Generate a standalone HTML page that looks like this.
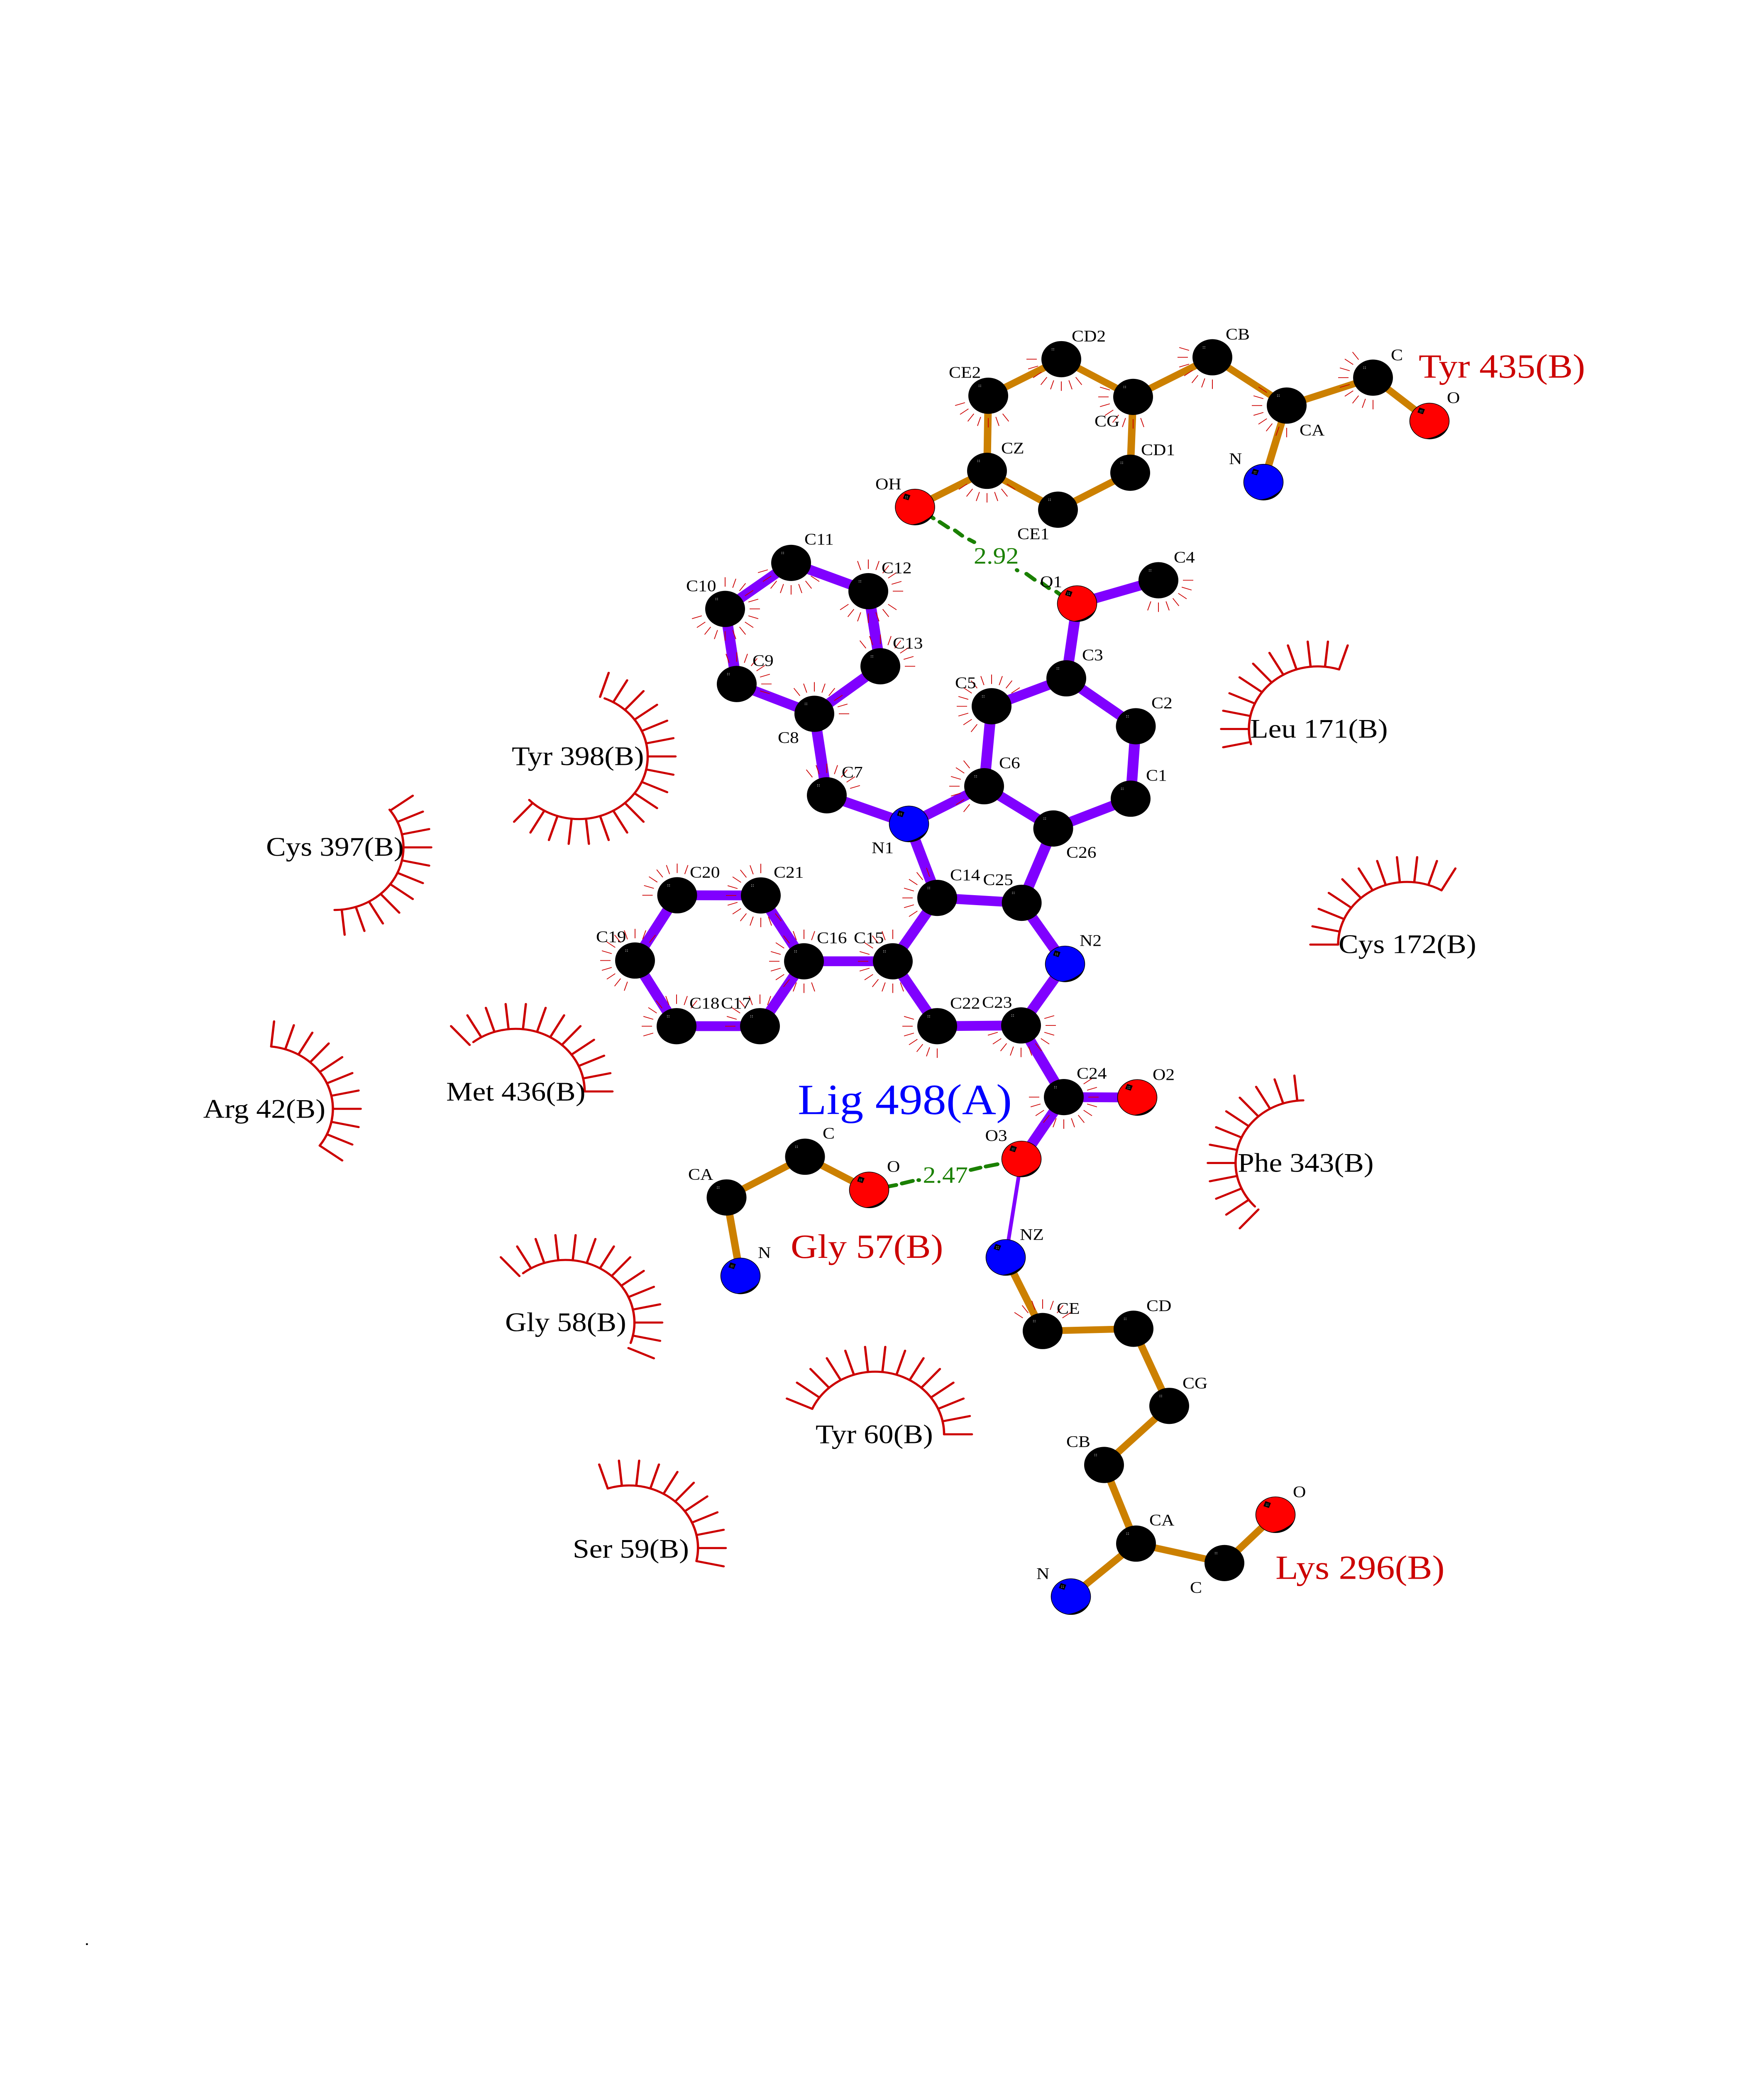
<!DOCTYPE html>
<html lang="en">
<head>
<meta charset="utf-8">
<title>Lig 498(A) interaction diagram</title>
<style>
html,body{margin:0;padding:0;background:#fff;width:100%;height:100%;overflow:hidden}
svg{display:block;position:absolute;left:0;top:0;overflow:hidden;width:100vw;height:100vh}
text{font-family:"Liberation Serif","Times New Roman",serif}
.p{stroke:#8000ff;stroke-width:26;fill:none}
.o{stroke:#cc8000;stroke-width:18;fill:none}
.a text,.a{font-size:43.5px;fill:#000}
.r{font-size:71.5px;fill:#000}
.g{font-size:62px;fill:#1a8000}
.e{font-size:90px;fill:#cc0000}
.eye circle{fill:none;stroke:#cc0000;stroke-width:5.5;stroke-linecap:round}
.hb line{stroke:#1a8000;stroke-width:10;stroke-linecap:round}
</style>
</head>
<body>
<svg xmlns="http://www.w3.org/2000/svg" viewBox="0 0 4250 5500" preserveAspectRatio="none">
<defs>
  <line id="t" x1="59" x2="84" stroke="#cc0000" stroke-width="1.9"/>
  <g id="f7"><use href="#t"/><use href="#t" transform="rotate(18)"/><use href="#t" transform="rotate(36)"/><use href="#t" transform="rotate(54)"/><use href="#t" transform="rotate(72)"/><use href="#t" transform="rotate(90)"/><use href="#t" transform="rotate(108)"/></g>
  <g id="f8"><use href="#f7"/><use href="#t" transform="rotate(126)"/></g>
  <g id="f9"><use href="#f8"/><use href="#t" transform="rotate(144)"/></g>
  <g id="f11"><use href="#f9"/><use href="#t" transform="rotate(162)"/><use href="#t" transform="rotate(180)"/></g>
  <g id="f12"><use href="#f11"/><use href="#t" transform="rotate(198)"/></g>
  <g id="f13"><use href="#f12"/><use href="#t" transform="rotate(216)"/></g>
  <g id="f15"><use href="#f13"/><use href="#t" transform="rotate(234)"/><use href="#t" transform="rotate(252)"/></g>

  <line id="l" x1="166" x2="233" stroke="#cc0000" stroke-width="5.5" stroke-linecap="round"/>
  <g id="n11"><use href="#l"/><use href="#l" transform="rotate(12)"/><use href="#l" transform="rotate(24)"/><use href="#l" transform="rotate(36)"/><use href="#l" transform="rotate(48)"/><use href="#l" transform="rotate(60)"/><use href="#l" transform="rotate(72)"/><use href="#l" transform="rotate(84)"/><use href="#l" transform="rotate(96)"/><use href="#l" transform="rotate(108)"/><use href="#l" transform="rotate(120)"/></g>
  <g id="n12"><use href="#n11"/><use href="#l" transform="rotate(132)"/></g>
  <g id="n14"><use href="#n12"/><use href="#l" transform="rotate(144)"/><use href="#l" transform="rotate(156)"/></g>
  <g id="n18"><use href="#n14"/><use href="#l" transform="rotate(168)"/><use href="#l" transform="rotate(180)"/><use href="#l" transform="rotate(192)"/><use href="#l" transform="rotate(204)"/></g>

  <g id="hl"><rect x="-23" y="-29" width="1.5" height="1.5" fill="#fff"/><rect x="-19" y="-29" width="1.5" height="1.5" fill="#fff"/><rect x="-23" y="-25" width="1.5" height="1.5" fill="#fff"/><rect x="-19" y="-25" width="1.5" height="1.5" fill="#fff"/></g>
  <g id="det"><path d="M46.5,10 A47.5 47.5 0 0 1 -10,46.5 Q 12,44 27,33 Q 42,24 46.5,10Z" fill="#000"/><rect x="-27" y="-34" width="14" height="14" fill="#000" transform="rotate(20 -20 -27)"/><use href="#hl"/></g>
  <g id="k"><circle r="48" fill="#000"/><use href="#hl"/></g>
  <g id="c-r"><circle r="47.5" fill="#ff0000" stroke="#000" stroke-width="1.6"/><use href="#det"/></g>
  <g id="c-b"><circle r="47.5" fill="#0000ff" stroke="#000" stroke-width="1.6"/><use href="#det"/></g>
</defs>

<rect width="4250" height="5500" fill="#fff"/>

<!-- hydrophobic arcs -->
<g class="eye">
  <g transform="translate(1394.5 2005)"><use href="#n18" transform="rotate(-72)"/><circle r="166" pathLength="360" stroke-dasharray="204 900" transform="rotate(-68)"/></g>
  <g transform="translate(806 2246)"><use href="#n11" transform="rotate(-36)"/><circle r="166" pathLength="360" stroke-dasharray="127 900" transform="rotate(-37)"/></g>
  <g transform="translate(636 2939)"><use href="#n11" transform="rotate(-84)"/><circle r="166" pathLength="360" stroke-dasharray="120 900" transform="rotate(-84)"/></g>
  <g transform="translate(1242.6 2893)"><use href="#n12" transform="rotate(-132)"/><circle r="166" pathLength="360" stroke-dasharray="128 900" transform="rotate(-128)"/></g>
  <g transform="translate(1362.5 3505.6)"><use href="#n14" transform="rotate(-132)"/><circle r="166" pathLength="360" stroke-dasharray="147 900" transform="rotate(-128)"/></g>
  <g transform="translate(2108.6 3801.8)"><use href="#n14" transform="rotate(-156)"/><circle r="166" pathLength="360" stroke-dasharray="156 900" transform="rotate(-156)"/></g>
  <g transform="translate(1515.6 4103.3)"><use href="#n11" transform="rotate(-108)"/><circle r="166" pathLength="360" stroke-dasharray="120 900" transform="rotate(-108)"/></g>
  <g transform="translate(3142.9 3082.6)"><use href="#n12" transform="rotate(-228)"/><circle r="166" pathLength="360" stroke-dasharray="133 900" transform="rotate(-224)"/></g>
  <g transform="translate(3175 1932.3)"><use href="#n11" transform="rotate(-192)"/><circle r="166" pathLength="360" stroke-dasharray="122 900" transform="rotate(-194)"/></g>
  <g transform="translate(3390 2503.7)"><use href="#n11" transform="rotate(-180)"/><circle r="166" pathLength="360" stroke-dasharray="120 900" transform="rotate(-180)"/></g>
</g>

<!-- ligand bonds -->
<g class="p">
  <path d="M1747 1614L1906 1492L2092 1567L2121 1766L1962 1892L1775 1813L1747 1614"/>
  <path d="M1962 1892L1992 2108L2190 2184L2371 2084L2389 1872L2569 1798L2736.5 1925L2724 2117L2537.5 2196L2371 2084"/>
  <path d="M2190 2184L2258 2380L2461.6 2393L2537.5 2196"/>
  <path d="M2461.6 2393L2566 2555L2460 2718L2258 2720L2151 2548L2258 2380"/>
  <path d="M2151 2548L1937 2548L1833 2373.5L1631.5 2373L1530 2546L1630 2720L1831 2720L1937 2548"/>
  <path d="M2460 2718L2563 2908L2740 2909"/>
  <path d="M2563 2908L2461 3072"/>
  <path d="M2569 1798L2595 1600L2791 1538"/>
</g>
<line x1="2461" y1="3072" x2="2423" y2="3333" stroke="#8000ff" stroke-width="9"/>

<!-- residue bonds -->
<g class="o">
  <path d="M2204.5 1344L2378 1248L2381 1049L2557 952L2730 1052L2723 1253L2549 1351L2378 1248"/>
  <path d="M2730 1052L2921 947L3100 1075L3308 1001L3444 1116"/>
  <path d="M3100 1075L3044 1278"/>
  <path d="M1784 3382L1750.5 3174L1939.5 3066L2094 3154"/>
  <path d="M2423 3333L2512 3528L2731 3522L2817 3726.5L2660 3883L2737 4091.5L2950 4143L3073 4015"/>
  <path d="M2737 4091.5L2580 4232"/>
</g>

<!-- hydrogen bonds -->
<g class="hb">
  <line x1="2140" y1="3145" x2="2159" y2="3141"/>
  <line x1="2173" y1="3137" x2="2199" y2="3130"/>
  <line x1="2213" y1="3128" x2="2214" y2="3128"/>
  <line x1="2339" y1="3101" x2="2362" y2="3095"/>
  <line x1="2375" y1="3092" x2="2403" y2="3086"/>
  <line x1="2243.5" y1="1369.5" x2="2249" y2="1374"/>
  <line x1="2264" y1="1383.5" x2="2284" y2="1398"/>
  <line x1="2301" y1="1406" x2="2318" y2="1420"/>
  <line x1="2335" y1="1430" x2="2347" y2="1437"/>
  <line x1="2450" y1="1511" x2="2451" y2="1512"/>
  <line x1="2473" y1="1521" x2="2492.6" y2="1536.6"/>
  <line x1="2511" y1="1546" x2="2527" y2="1559"/>
  <line x1="2545" y1="1568.5" x2="2557" y2="1578"/>
</g>

<!-- hydrophobic contact ticks around atoms -->
<use href="#f12" transform="translate(2151 2548) rotate(72)"/>
<use href="#f7" transform="translate(2258 2720) rotate(90)"/>
<use href="#f11" transform="translate(2460 2718) rotate(-18)"/>
<use href="#f13" transform="translate(2563 2908) rotate(-36)"/>
<use href="#f12" transform="translate(1530 2546) rotate(108)"/>
<use href="#f7" transform="translate(1631.5 2373) rotate(180)"/>
<use href="#f13" transform="translate(1833 2373.5) rotate(54)"/>
<use href="#f13" transform="translate(1937 2548) rotate(72)"/>
<use href="#f9" transform="translate(1630 2720) rotate(162)"/>
<use href="#f7" transform="translate(1831 2720) rotate(180)"/>
<use href="#f7" transform="translate(2258 2380) rotate(144)"/>
<use href="#f8" transform="translate(1906 1492) rotate(36)"/>
<use href="#f7" transform="translate(2092 1567) rotate(252)"/>
<use href="#f7" transform="translate(2092 1567) rotate(36)"/>
<use href="#f15" transform="translate(1747 1614) rotate(270)"/>
<use href="#f8" transform="translate(1775 1813) rotate(252)"/>
<use href="#f8" transform="translate(2121 1766) rotate(234)"/>
<use href="#f8" transform="translate(1962 1892) rotate(234)"/>
<use href="#f7" transform="translate(1992 2108) rotate(234)"/>
<use href="#f7" transform="translate(2371 2084) rotate(126)"/>
<use href="#f12" transform="translate(2389 1872) rotate(126)"/>
<use href="#f7" transform="translate(2791 1538) rotate(0)"/>
<use href="#f8" transform="translate(2557 952) rotate(54)"/>
<use href="#f7" transform="translate(2921 947) rotate(90)"/>
<use href="#f8" transform="translate(2730 1052) rotate(72)"/>
<use href="#f8" transform="translate(3100 1075) rotate(90)"/>
<use href="#f9" transform="translate(3308 1001) rotate(90)"/>
<use href="#f7" transform="translate(2378 1248) rotate(36)"/>
<use href="#f7" transform="translate(2381 1049) rotate(54)"/>
<use href="#f7" transform="translate(2512 3528) rotate(216)"/>

<!-- atoms -->
<use href="#k" x="1906" y="1492"/>
<use href="#k" x="2092" y="1567"/>
<use href="#k" x="1747" y="1614"/>
<use href="#k" x="2121" y="1766"/>
<use href="#k" x="1775" y="1813"/>
<use href="#k" x="1962" y="1892"/>
<use href="#k" x="1992" y="2108"/>
<use href="#c-b" x="2190" y="2184"/>
<use href="#k" x="2371" y="2084"/>
<use href="#k" x="2389" y="1872"/>
<use href="#k" x="2569" y="1798"/>
<use href="#k" x="2736.5" y="1925"/>
<use href="#k" x="2724" y="2117"/>
<use href="#k" x="2537.5" y="2196"/>
<use href="#k" x="2258" y="2380"/>
<use href="#k" x="2461.6" y="2393"/>
<use href="#c-b" x="2566" y="2555"/>
<use href="#k" x="2151" y="2548"/>
<use href="#k" x="1937" y="2548"/>
<use href="#k" x="1833" y="2373.5"/>
<use href="#k" x="1631.5" y="2373"/>
<use href="#k" x="1530" y="2546"/>
<use href="#k" x="1630" y="2720"/>
<use href="#k" x="1831" y="2720"/>
<use href="#k" x="2258" y="2720"/>
<use href="#k" x="2460" y="2718"/>
<use href="#k" x="2563" y="2908"/>
<use href="#c-r" x="2740" y="2909"/>
<use href="#c-r" x="2461" y="3072"/>
<use href="#c-r" x="2595" y="1600"/>
<use href="#k" x="2791" y="1538"/>

<use href="#c-r" x="2204.5" y="1344"/>
<use href="#k" x="2378" y="1248"/>
<use href="#k" x="2381" y="1049"/>
<use href="#k" x="2557" y="952"/>
<use href="#k" x="2730" y="1052"/>
<use href="#k" x="2723" y="1253"/>
<use href="#k" x="2549" y="1351"/>
<use href="#k" x="2921" y="947"/>
<use href="#k" x="3100" y="1075"/>
<use href="#k" x="3308" y="1001"/>
<use href="#c-r" x="3444" y="1116"/>
<use href="#c-b" x="3044" y="1278"/>

<use href="#k" x="1750.5" y="3174"/>
<use href="#k" x="1939.5" y="3066"/>
<use href="#c-r" x="2094" y="3154"/>
<use href="#c-b" x="1784" y="3382"/>

<use href="#c-b" x="2423" y="3333"/>
<use href="#k" x="2512" y="3528"/>
<use href="#k" x="2731" y="3522"/>
<use href="#k" x="2817" y="3726.5"/>
<use href="#k" x="2660" y="3883"/>
<use href="#k" x="2737" y="4091.5"/>
<use href="#k" x="2950" y="4143"/>
<use href="#c-r" x="3073" y="4015"/>
<use href="#c-b" x="2580" y="4232"/>

<!-- atom labels -->
<g class="a">
  <text x="2582" y="905">CD2</text>
  <text x="2286" y="1001">CE2</text>
  <text x="2953" y="900">CB</text>
  <text x="3351" y="955">C</text>
  <text x="3486" y="1068">O</text>
  <text x="2637" y="1130">CG</text>
  <text x="2412" y="1202">CZ</text>
  <text x="2749" y="1206">CD1</text>
  <text x="3131" y="1154">CA</text>
  <text x="2961" y="1230">N</text>
  <text x="2109" y="1297">OH</text>
  <text x="2451" y="1429">CE1</text>
  <text x="2506" y="1556">O1</text>
  <text x="2828" y="1491">C4</text>
  <text x="2607" y="1750">C3</text>
  <text x="1938" y="1443">C11</text>
  <text x="2124" y="1519">C12</text>
  <text x="1653" y="1567">C10</text>
  <text x="2151" y="1719">C13</text>
  <text x="1813" y="1765">C9</text>
  <text x="1874" y="1969">C8</text>
  <text x="2028" y="2061">C7</text>
  <text x="2301" y="1824">C5</text>
  <text x="2100" y="2261">N1</text>
  <text x="1662" y="2326">C20</text>
  <text x="1864" y="2326">C21</text>
  <text x="1436" y="2497">C19</text>
  <text x="1968" y="2500">C16</text>
  <text x="2057" y="2500">C15</text>
  <text x="1661" y="2673">C18</text>
  <text x="1737" y="2673">C17</text>
  <text x="2289" y="2333">C14</text>
  <text x="2368.5" y="2346">C25</text>
  <text x="2289" y="2673">C22</text>
  <text x="2366" y="2671">C23</text>
  <text x="2774" y="1877">C2</text>
  <text x="2761" y="2069">C1</text>
  <text x="2407" y="2036">C6</text>
  <text x="2569" y="2273">C26</text>
  <text x="2601" y="2507">N2</text>
  <text x="2594" y="2859">C24</text>
  <text x="2777" y="2862">O2</text>
  <text x="2373.5" y="3024">O3</text>
  <text x="1982" y="3018">C</text>
  <text x="1658" y="3127">CA</text>
  <text x="2137" y="3106">O</text>
  <text x="1826" y="3334">N</text>
  <text x="2457" y="3286">NZ</text>
  <text x="2546" y="3482">CE</text>
  <text x="2762" y="3475">CD</text>
  <text x="2849" y="3680">CG</text>
  <text x="2569" y="3835">CB</text>
  <text x="2769" y="4043">CA</text>
  <text x="2867" y="4222">C</text>
  <text x="3115" y="3968">O</text>
  <text x="2497" y="4185">N</text>
  <text x="204" y="5155">.</text>
</g>

<!-- distances -->
<text class="g" x="2346" y="1494">2.92</text>
<text class="g" x="2223.5" y="3135">2.47</text>

<!-- residue names -->
<text class="r" x="1233" y="2028">Tyr 398(B)</text>
<text class="r" x="641" y="2268">Cys 397(B)</text>
<text class="r" x="489.5" y="2963">Arg 42(B)</text>
<text class="r" x="1075" y="2917">Met 436(B)</text>
<text class="r" x="1217" y="3528">Gly 58(B)</text>
<text class="r" x="1965" y="3825">Tyr 60(B)</text>
<text class="r" x="1380" y="4129">Ser 59(B)</text>
<text class="r" x="2982" y="3106">Phe 343(B)</text>
<text class="r" x="3012" y="1955">Leu 171(B)</text>
<text class="r" x="3225" y="2526">Cys 172(B)</text>

<text class="e" x="3418" y="1001">Tyr 435(B)</text>
<text class="e" x="1905" y="3334">Gly 57(B)</text>
<text class="e" x="3073" y="4185">Lys 296(B)</text>
<text x="1922" y="2953" font-size="114" fill="#0000ff">Lig 498(A)</text>
</svg>
</body>
</html>
